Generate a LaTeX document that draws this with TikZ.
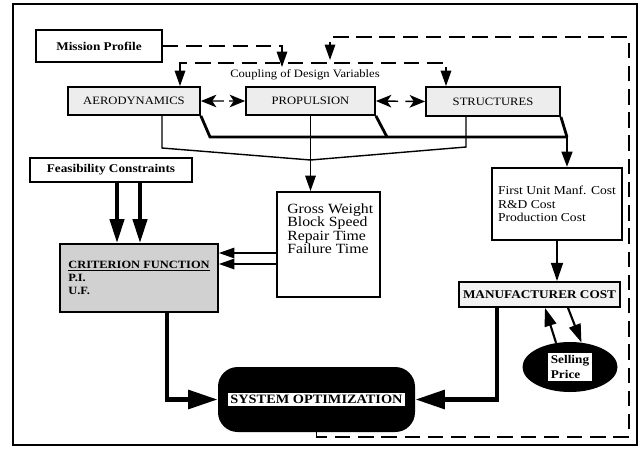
\documentclass[tikz,border=0pt]{standalone}
\usepackage{fontspec}
\setmainfont{Liberation Serif}[FakeStretch=1.12]
\usetikzlibrary{arrows.meta,shapes.geometric,calc}

\begin{document}
\begin{tikzpicture}[x=0.025cm, y=-0.025cm,
		box/.style={draw, line width=1.3pt, inner sep=0pt},
		wh/.style 2 args={minimum width=#1*0.025cm, minimum height=#2*0.025cm},
		title/.style={font=\fontsize{8.4}{10}\selectfont\bfseries},
		caps/.style={font=\fontsize{8}{10}\selectfont},
		stip/.style={fill=black!7},
		conn/.style={line width=1pt},
		heavy/.style={line width=2pt},
		fat/.style={line width=3.5pt},
		fback/.style={line width=1.1pt, dash pattern=on 11pt off 5.5pt},
		smlarrow/.style={-{Triangle[length=11pt,width=7.5pt]}},
		cplarrow/.style={-{Stealth[length=11pt,width=9pt,inset=3pt]}},
		midarrow/.style={-{Triangle[length=13pt,width=8.5pt]}},
		thickarrow/.style={line width=2.8pt, -{Triangle[length=17pt,width=10pt]}},
		bigarrow/.style={-{Triangle[length=21pt,width=13pt]}}]
		\useasboundingbox (0,0) rectangle (639,449);
		\draw[line width=1.2pt] (13,4) rectangle (637,445);
		\node[box, wh={126}{32}, title] (mission) at (99,46) {Mission Profile};
		\node[caps] (coupling) at (305,75) {Coupling of Design Variables};
		\node[box, stip, wh={132}{28}, caps] (aero) at (134,101) {AERODYNAMICS};
		\node[box, stip, wh={129}{28}, caps] (prop) at (310.5,101) {PROPULSION};
		\node[box, stip, wh={134}{29}, caps] (struct) at (493,101.5) {STRUCTURES};
		\node[box, wh={162}{24}, title] (feas) at (111,170) {Feasibility Constraints};
		\node[box, fill=black!18, wh={158}{68}, align=left,
			font=\fontsize{7.9}{9.2}\selectfont\bfseries] (crit) at (139,278) {\underline{CRITERION FUNCTION}\\P.I.\\U.F.};
		\node[box, wh={103}{105}] (gross) at (328.5,244.5) {};
		\node[anchor=north west, align=left, inner sep=0pt, font=\fontsize{10}{9.6}\selectfont] (grosslist)
			at ([shift={(11,12)}]gross.north west) {Gross Weight\\Block Speed\\Repair Time\\Failure Time};
		\node[box, wh={130}{72}, align=left,
			font=\fontsize{8.6}{9.4}\selectfont] (first) at (557,204) {First Unit Manf. Cost\\R\&D Cost\\Production Cost};
		\node[box, fill=black!5, wh={161}{25}, font=\fontsize{8.4}{10}\selectfont\bfseries] (manuf) at (539.5,294.5) {MANUFACTURER COST};
		\node[ellipse, fill=black, wh={95}{50}, inner sep=0pt, font=\fontsize{8.4}{9}\selectfont\bfseries] (sell)
			at (570,367) {\fboxsep=2pt\colorbox{white}{\shortstack[l]{Selling\\Price}}};
		\node[fill=black, rounded corners=14pt, wh={197}{65}, inner sep=0pt, font=\fontsize{9.1}{10}\selectfont\bfseries] (sysopt)
			at (316.5,399.5) {\fboxsep=1.5pt\colorbox{white}{SYSTEM OPTIMIZATION}};
		\draw[conn, cplarrow] ($(aero.east)!0.52!(prop.west)$) -- (aero.east);
		\draw[conn, cplarrow] ($(aero.east)!0.64!(prop.west)$) -- (prop.west);
		\draw[conn, cplarrow] ($(prop.east)!0.45!(struct.west)$) -- (prop.east);
		\draw[conn, cplarrow] ($(prop.east)!0.6!(struct.west)$) -- (struct.west);
		\coordinate (mp) at (282,67);
		\coordinate (cl) at (180,63);
		\coordinate (cr) at (446,63);
		\coordinate (fbr) at (629,437);
		\coordinate (fbt) at (330,37);
		\coordinate (fbe) at (330,60);
		\draw[fback, smlarrow] (mission.east) -| (mp);
		\draw[fback, {Triangle[length=11pt,width=7.5pt]}-{Triangle[length=11pt,width=7.5pt]}]
			(cl |- aero.north) -- (cl) -- (cr) -- (cr |- struct.north);
		\draw[fback, smlarrow] (sysopt.south) |- (fbr) |- (fbt) -- (fbe);
		\coordinate (aL) at (162,148);
		\coordinate (sR) at (466,147);
		\coordinate (join) at (310.5,160);
		\draw[conn] (aero.south -| aL) -- (aL) -- (join);
		\draw[conn] (struct.south -| sR) -- (sR) -- (join);
		\draw[conn, smlarrow] (prop.south) -- (prop.south |- gross.north);
		\coordinate (tL) at (210,137);
		\coordinate (pT) at (387,137);
		\coordinate (tR) at (567,137);
		\draw[heavy] (aero.south east) -- (tL) -- (tR);
		\draw[heavy] (prop.south east) -- (pT);
		\draw[heavy] (struct.south east) -- (tR);
		\draw[heavy, smlarrow] (tR) -- (tR |- first.north);
		\coordinate (f1) at (117,0);
		\coordinate (f2) at (140,0);
		\draw[thickarrow] (feas.south -| f1) -- (crit.north -| f1);
		\draw[thickarrow] (feas.south -| f2) -- (crit.north -| f2);
		\coordinate (g1) at (0,253);
		\coordinate (g2) at (0,264);
		\draw[conn, smlarrow] (gross.west |- g1) -- (crit.east |- g1);
		\draw[conn, smlarrow] (gross.west |- g2) -- (crit.east |- g2);
		\coordinate (c3) at (167,0);
		\coordinate (c4) at (497,0);
		\draw[fat, bigarrow] (crit.south -| c3) |- (sysopt.west);
		\draw[fat, bigarrow] (manuf.south -| c4) |- (sysopt.east);
		\draw[line width=1.4pt, midarrow] (first.south) -- (first.south |- manuf.north);
		\coordinate (m1) at (545,0);
		\coordinate (m2) at (568,0);
		\draw[line width=1.5pt, midarrow] (sell.120) -- (manuf.south -| m1);
		\draw[line width=1.5pt, midarrow] (manuf.south -| m2) -- (sell.65);
	\end{tikzpicture}
\end{document}
